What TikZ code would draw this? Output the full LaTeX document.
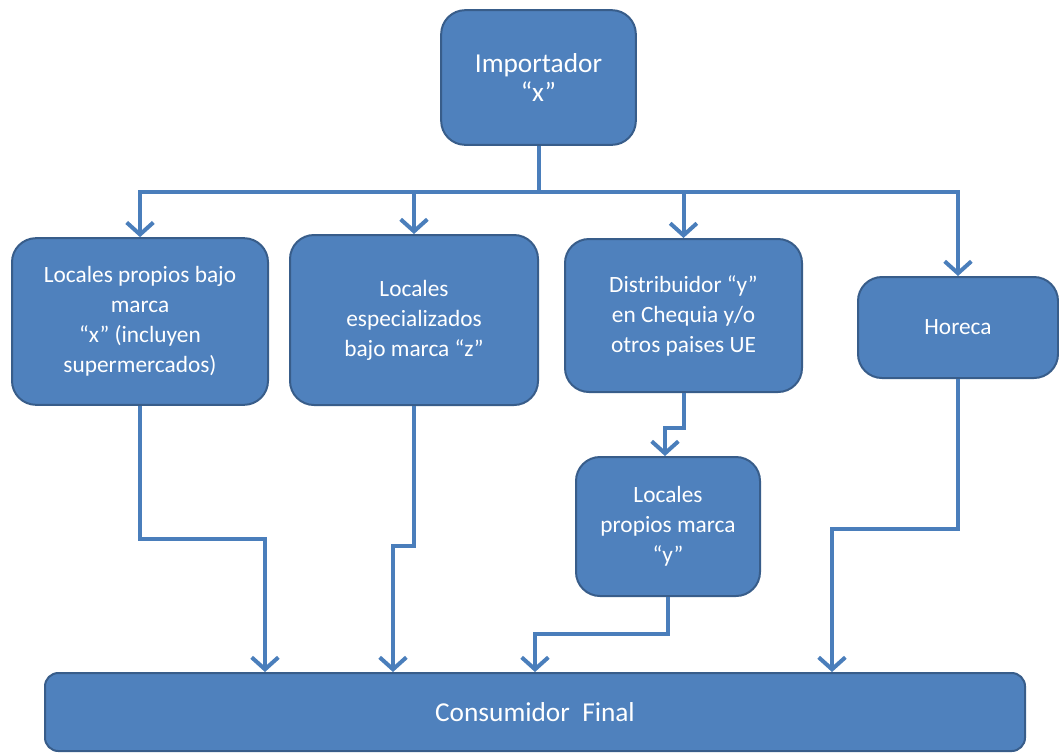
\documentclass[tikz,border=0pt]{standalone}
\usepackage{fontspec}
\setmainfont{Carlito}
\usetikzlibrary{arrows.meta,calc}
\definecolor{boxfill}{HTML}{4F81BD}
\definecolor{boxline}{HTML}{385D8A}
\definecolor{conn}{HTML}{4A7EBB}
\tikzset{
  box/.style={draw=boxline, line width=1.5pt, fill=boxfill, rounded corners=18pt,
    text=white, align=center, inner sep=2pt,
    font=\fontsize{17.5}{22.5}\selectfont},
  arr/.style={draw=conn, line width=3pt,
    -{Straight Barb[length=9pt,width=20pt,line width=3pt]}},
}
\begin{document}
\begin{tikzpicture}[x=0.75pt,y=-0.75pt]
\useasboundingbox (0,0) rectangle (1059,754);
\node[box, font=\fontsize{20.5}{22}\selectfont, minimum width=146pt, minimum height=101pt] (imp) at (538.5,77.5) {Importador\\“x”};
\node[box, minimum width=192pt, minimum height=125pt] (b1) at (140,321.5) {Locales propios bajo\\marca\\“x” (incluyen\\supermercados)};
\node[box, minimum width=186pt, minimum height=127.5pt] (b2) at (414,320) {\raisebox{-6pt}{\parbox{170pt}{\centering Locales\\especializados\\bajo marca “z”}}};
\node[box, minimum width=177.75pt, minimum height=114.75pt] (b3) at (683.5,315.5) {Distribuidor “y”\\en Chequia y/o\\otros paises UE};
\node[box, minimum width=150pt, minimum height=75.75pt] (b4) at (958,327.5) {Horeca};
\node[box, minimum width=138pt, minimum height=104.25pt] (b5) at (668,526.5) {Locales\\propios marca\\“y”};
\node[box, font=\fontsize{20.5}{24}\selectfont, rounded corners=10pt, minimum width=735pt, minimum height=58.5pt] (cons) at (535,712) {Consumidor\ \ Final};
\coordinate (e1) at (265,0);
\coordinate (e2) at (393,0);
\coordinate (e5) at (535,0);
\coordinate (e4) at (832,0);
\coordinate (e3) at (665,0);
\draw[arr] (imp.south) -- ++(0,46) -| (b1.north);
\draw[arr] (imp.south) -- ++(0,46) -| (b2.north);
\draw[arr] (imp.south) -- ++(0,46) -| (b3.north);
\draw[arr] (imp.south) -- ++(0,46) -| (b4.north);
\draw[arr] (b1.south) -- ++(0,133) -| (cons.north -| e1);
\draw[arr] (b2.south) -- ++(0,140) -| (cons.north -| e2);
\draw[arr] (b3.south) -- ++(0,35) -| (b5.north -| e3);
\draw[arr] (b5.south) -- ++(0,37) -| (cons.north -| e5);
\draw[arr] (b4.south) -- ++(0,150) -| (cons.north -| e4);
\end{tikzpicture}
\end{document}
